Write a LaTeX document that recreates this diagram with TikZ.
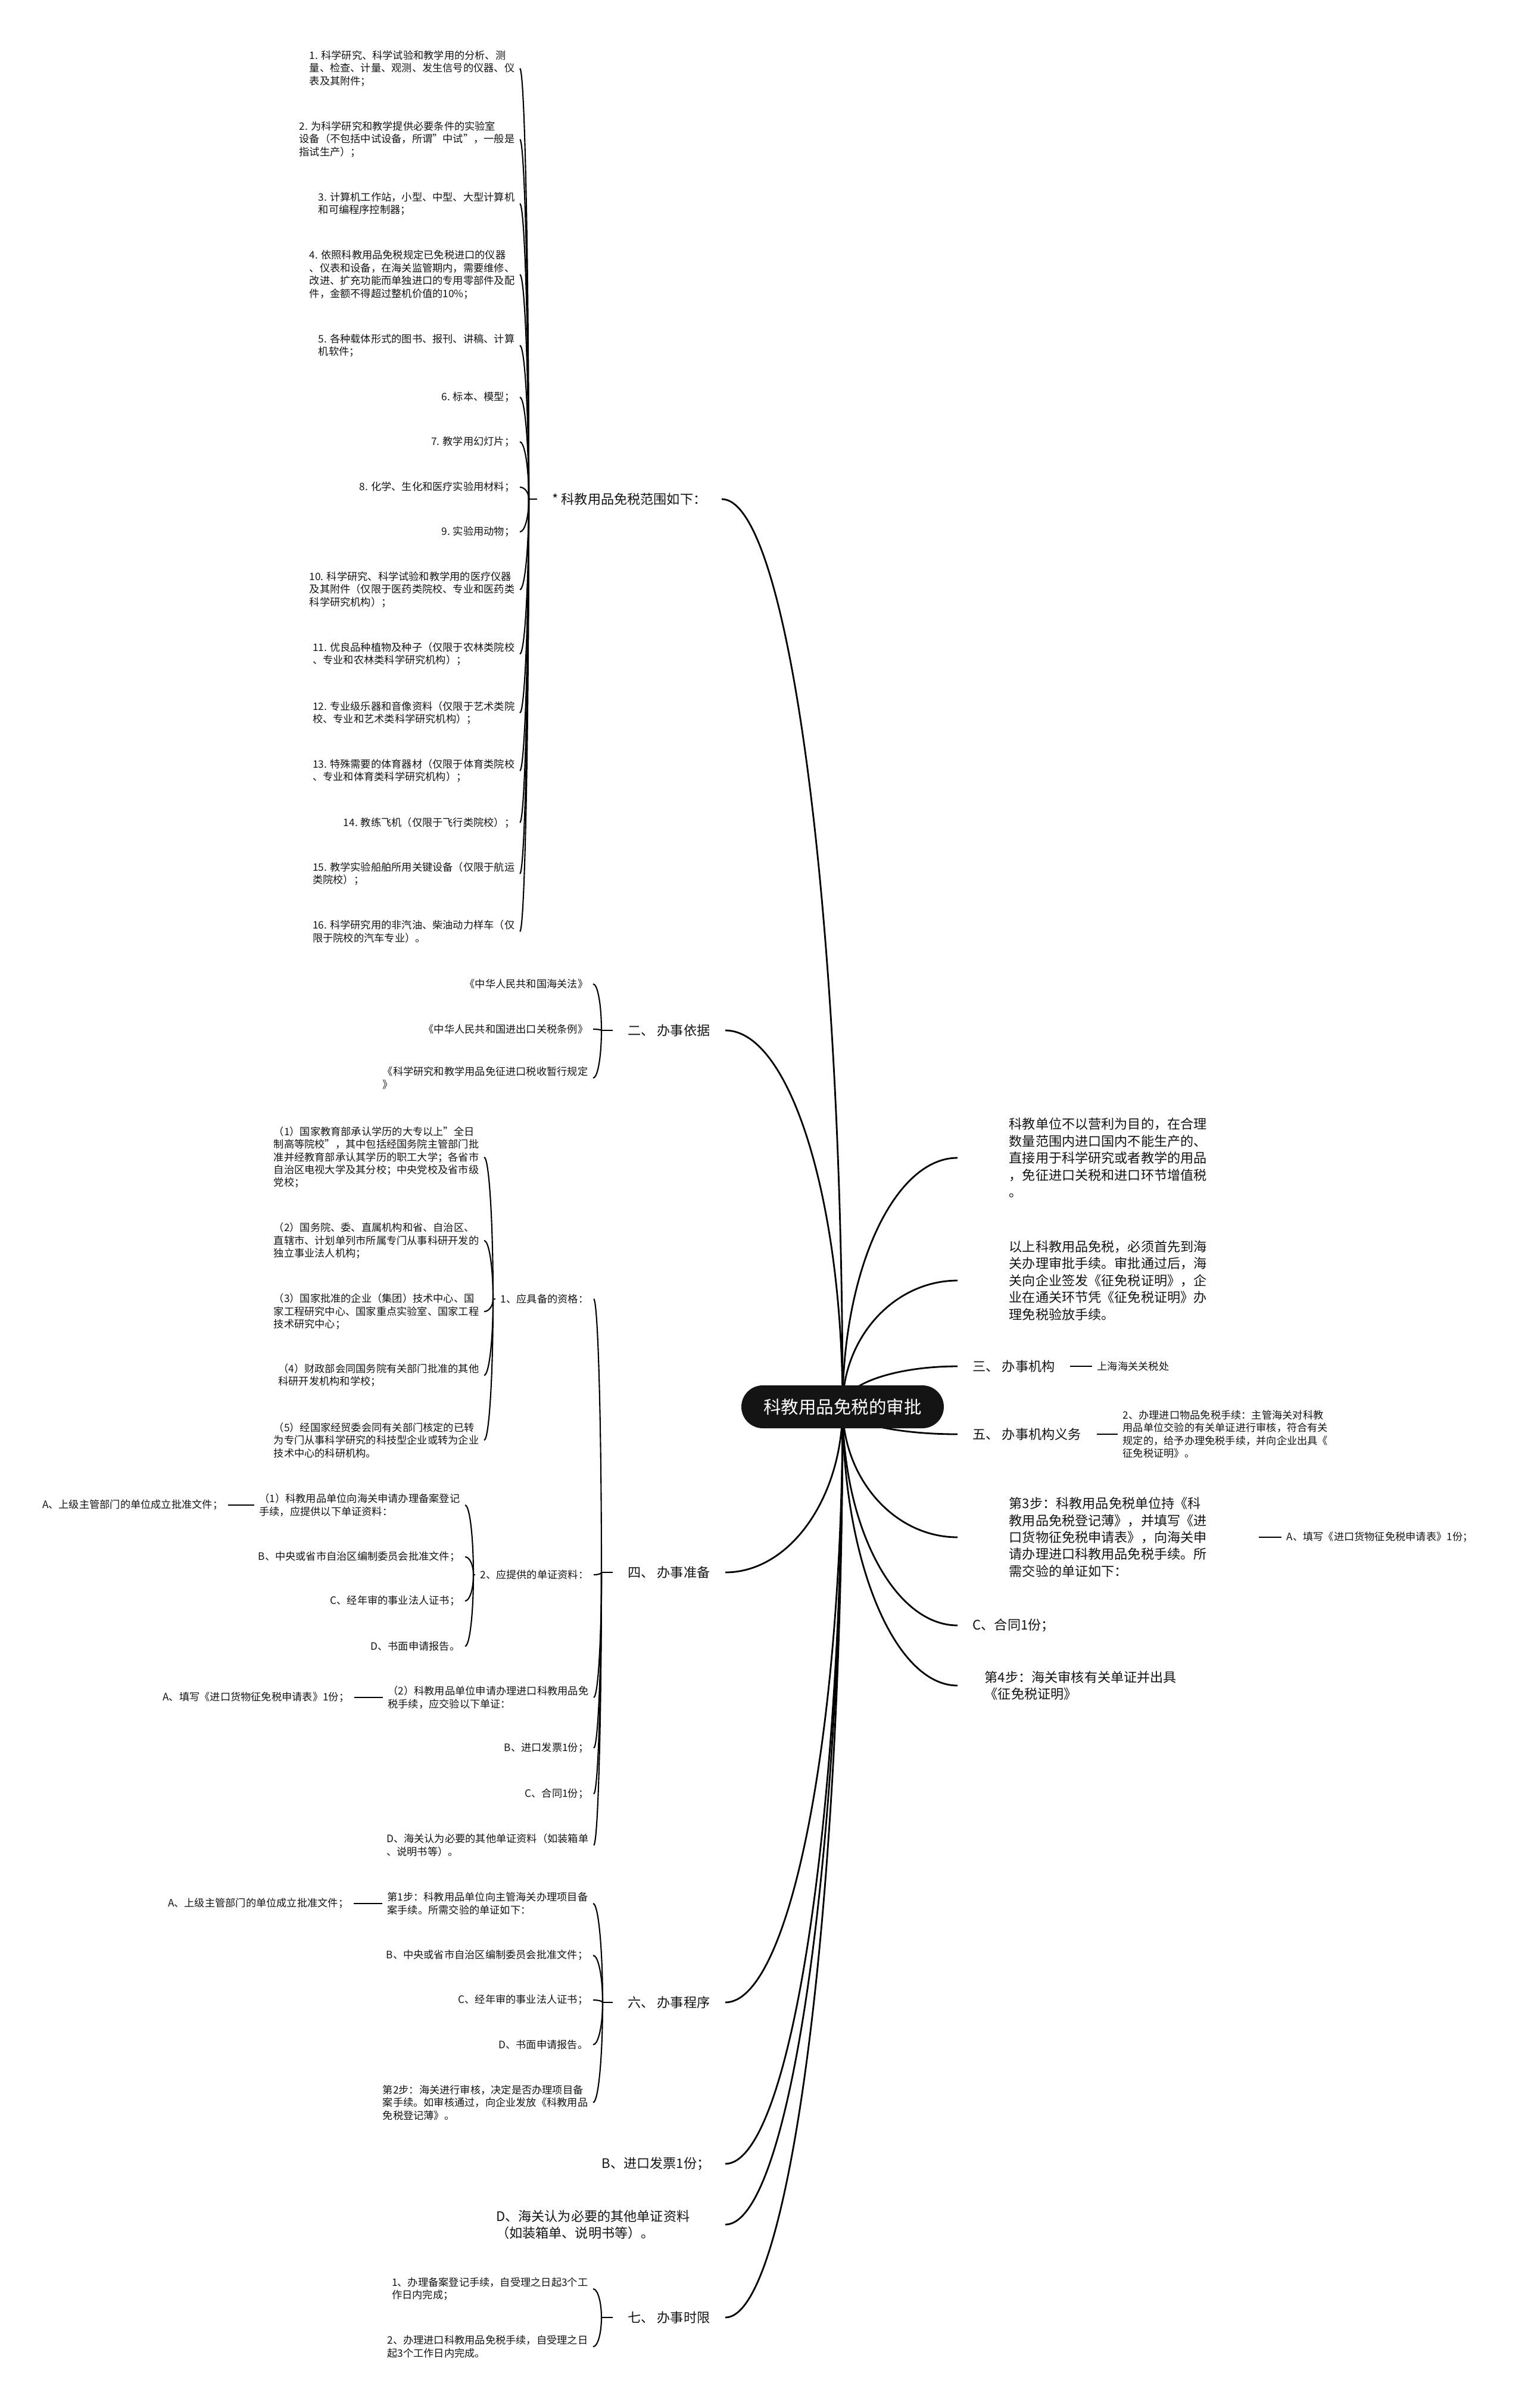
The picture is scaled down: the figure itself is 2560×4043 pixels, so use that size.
\documentclass[tikz,border=0pt]{standalone}
\usepackage{fontspec}
\setmainfont{Noto Sans CJK SC}
\usetikzlibrary{calc, backgrounds}
\definecolor{inkblack}{RGB}{20, 20, 20}
\definecolor{linkblack}{RGB}{0, 0, 0}

\tikzset{
  bend path/.style={to path={.. controls ($(\tikztostart)!0.55!(\tikztostart|-\tikztotarget)$) and ($(\tikztotarget)!0.55!(\tikztostart|-\tikztotarget)$) .. (\tikztotarget)}},
  centre/.style={fill=inkblack, text=white, rounded corners=3.6mm, minimum width=34mm,
                 minimum height=7.2mm, inner sep=0pt, font=\fontsize{8.4}{10}\selectfont},
  topic/.style={text=inkblack, inner xsep=2.5mm, inner ysep=0pt, align=left,
                font=\fontsize{6.3}{8.1}\selectfont},
  leaf/.style={text=inkblack, inner xsep=0.8mm, inner ysep=0pt, align=left,
               font=\fontsize{4.9}{6.1}\selectfont},
  branch/.style={draw=linkblack, line width=0.8pt, bend path},
  twig/.style={draw=linkblack, line width=0.6pt, bend path},
  stub/.style={draw=linkblack, line width=0.8pt}
}

\begin{document}
\begin{tikzpicture}[x=0.1mm, y=-0.1mm]
\begin{scope}[on background layer]
  \fill[white] (0,0) rectangle (2560,4043);
\end{scope}

\node[centre] (approve) at (1415,2362) {科教用品免税的审批};

% left: range of goods
\node[topic, anchor=east] (range) at (1212,838) {* 科教用品免税范围如下：};
\coordinate (j1) at (888,838);
\node[leaf, anchor=east] (item1) at (873,115) {1. 科学研究、科学试验和教学用的分析、测\\量、检查、计量、观测、发生信号的仪器、仪\\表及其附件；};
\node[leaf, anchor=east] (item2) at (873,234) {2. 为科学研究和教学提供必要条件的实验室\\设备（不包括中试设备，所谓"中试"，一般是\\指试生产）；};
\node[leaf, anchor=east] (item3) at (873,342) {3. 计算机工作站，小型、中型、大型计算机\\和可编程序控制器；};
\node[leaf, anchor=east] (item4) at (873,461) {4. 依照科教用品免税规定已免税进口的仪器\\、仪表和设备，在海关监管期内，需要维修、\\改进、扩充功能而单独进口的专用零部件及配\\件，金额不得超过整机价值的10\%；};
\node[leaf, anchor=east] (item5) at (873,580) {5. 各种载体形式的图书、报刊、讲稿、计算\\机软件；};
\node[leaf, anchor=east] (item6) at (873,667) {6. 标本、模型；};
\node[leaf, anchor=east] (item7) at (873,742) {7. 教学用幻灯片；};
\node[leaf, anchor=east] (item8) at (873,818) {8. 化学、生化和医疗实验用材料；};
\node[leaf, anchor=east] (item9) at (873,893) {9. 实验用动物；};
\node[leaf, anchor=east] (item10) at (873,990) {10. 科学研究、科学试验和教学用的医疗仪器\\及其附件（仅限于医药类院校、专业和医药类\\科学研究机构）；};
\node[leaf, anchor=east] (item11) at (873,1098) {11. 优良品种植物及种子（仅限于农林类院校\\、专业和农林类科学研究机构）；};
\node[leaf, anchor=east] (item12) at (873,1197) {12. 专业级乐器和音像资料（仅限于艺术类院\\校、专业和艺术类科学研究机构）；};
\node[leaf, anchor=east] (item13) at (873,1294) {13. 特殊需要的体育器材（仅限于体育类院校\\、专业和体育类科学研究机构）；};
\node[leaf, anchor=east] (item14) at (873,1381) {14. 教练飞机（仅限于飞行类院校）；};
\node[leaf, anchor=east] (item15) at (873,1467) {15. 教学实验船舶所用关键设备（仅限于航运\\类院校）；};
\node[leaf, anchor=east] (item16) at (873,1564) {16. 科学研究用的非汽油、柴油动力样车（仅\\限于院校的汽车专业）。};

% left: legal basis
\node[topic, anchor=east] (basis) at (1218,1730) {二、 办事依据};
\coordinate (j2) at (1010,1730);
\node[leaf, anchor=east] (law1) at (996,1652) {《中华人民共和国海关法》};
\node[leaf, anchor=east] (law2) at (996,1728) {《中华人民共和国进出口关税条例》};
\node[leaf, anchor=east] (law3) at (996,1810) {《科学研究和教学用品免征进口税收暂行规定\\》};

% left: preparation
\node[topic, anchor=east] (prep) at (1218,2640) {四、 办事准备};
\coordinate (j4) at (1010,2640);
\node[leaf, anchor=east] (qual) at (997,2181) {1、应具备的资格：};
\coordinate (jq) at (828,2181);
\node[leaf, anchor=east] (qual1) at (813,1943) {（1）国家教育部承认学历的大专以上"全日\\制高等院校"，其中包括经国务院主管部门批\\准并经教育部承认其学历的职工大学；各省市\\自治区电视大学及其分校；中央党校及省市级\\党校；};
\node[leaf, anchor=east] (qual2) at (813,2083) {（2）国务院、委、直属机构和省、自治区、\\直辖市、计划单列市所属专门从事科研开发的\\独立事业法人机构；};
\node[leaf, anchor=east] (qual3) at (813,2202) {（3）国家批准的企业（集团）技术中心、国\\家工程研究中心、国家重点实验室、国家工程\\技术研究中心；};
\node[leaf, anchor=east] (qual4) at (813,2309) {（4）财政部会同国务院有关部门批准的其他\\科研开发机构和学校；};
\node[leaf, anchor=east] (qual5) at (813,2418) {（5）经国家经贸委会同有关部门核定的已转\\为专门从事科学研究的科技型企业或转为企业\\技术中心的科研机构。};
\node[leaf, anchor=east] (docs) at (997,2644) {2、应提供的单证资料：};
\coordinate (jd) at (795,2644);
\node[leaf, anchor=east] (docs1) at (781,2527) {（1）科教用品单位向海关申请办理备案登记\\手续，应提供以下单证资料：};
\node[leaf, anchor=east] (docs1a) at (383,2527) {A、上级主管部门的单位成立批准文件；};
\node[leaf, anchor=east] (docs2) at (781,2614) {B、中央或省市自治区编制委员会批准文件；};
\node[leaf, anchor=east] (docs3) at (781,2688) {C、经年审的事业法人证书；};
\node[leaf, anchor=east] (docs4) at (781,2764) {D、书面申请报告。};
\node[leaf, anchor=east] (exempt) at (997,2850) {（2）科教用品单位申请办理进口科教用品免\\税手续，应交验以下单证：};
\node[leaf, anchor=east] (exempta) at (595,2850) {A、填写《进口货物征免税申请表》1份；};
\node[leaf, anchor=east] (prepb) at (997,2935) {B、进口发票1份；};
\node[leaf, anchor=east] (prepc) at (997,3012) {C、合同1份；};
\node[leaf, anchor=east] (prepd) at (997,3098) {D、海关认为必要的其他单证资料（如装箱单\\、说明书等）。};

% left: procedure
\node[topic, anchor=east] (proc) at (1218,3362) {六、 办事程序};
\coordinate (j6) at (1012,3362);
\node[leaf, anchor=east] (step1) at (996,3196) {第1步：科教用品单位向主管海关办理项目备\\案手续。所需交验的单证如下：};
\node[leaf, anchor=east] (step1a) at (594,3196) {A、上级主管部门的单位成立批准文件；};
\node[leaf, anchor=east] (procb) at (996,3283) {B、中央或省市自治区编制委员会批准文件；};
\node[leaf, anchor=east] (procc) at (996,3358) {C、经年审的事业法人证书；};
\node[leaf, anchor=east] (procd) at (996,3433) {D、书面申请报告。};
\node[leaf, anchor=east] (step2) at (996,3530) {第2步：海关进行审核，决定是否办理项目备\\案手续。如审核通过，向企业发放《科教用品\\免税登记薄》。};

\node[topic, anchor=east] (invoice) at (1218,3633) {B、进口发票1份；};
\node[topic, anchor=east, inner xsep=5.9mm] (other) at (1218,3735) {D、海关认为必要的其他单证资料\\（如装箱单、说明书等）。};

% left: time limit
\node[topic, anchor=east] (limit) at (1218,3891) {七、 办事时限};
\coordinate (j7) at (1010,3891);
\node[leaf, anchor=east] (limit1) at (996,3843) {1、办理备案登记手续，自受理之日起3个工\\作日内完成；};
\node[leaf, anchor=east] (limit2) at (996,3940) {2、办理进口科教用品免税手续，自受理之日\\起3个工作日内完成。};

% right side
\node[topic, anchor=west, inner xsep=8.6mm] (purpose) at (1608,1944) {科教单位不以营利为目的，在合理\\数量范围内进口国内不能生产的、\\直接用于科学研究或者教学的用品\\，免征进口关税和进口环节增值税\\。};
\node[topic, anchor=west, inner xsep=8.6mm] (firstly) at (1608,2150) {以上科教用品免税，必须首先到海\\关办理审批手续。审批通过后，海\\关向企业签发《征免税证明》，企\\业在通关环节凭《征免税证明》办\\理免税验放手续。};
\node[topic, anchor=west] (office) at (1608,2294) {三、 办事机构};
\node[leaf, anchor=west] (customs) at (1834,2294) {上海海关关税处};
\node[topic, anchor=west] (duty) at (1608,2408) {五、 办事机构义务};
\node[leaf, anchor=west] (dutytext) at (1877,2408) {2、办理进口物品免税手续：主管海关对科教\\用品单位交验的有关单证进行审核，符合有关\\规定的，给予办理免税手续，并向企业出具《\\征免税证明》。};
\node[topic, anchor=west, inner xsep=8.6mm] (step3) at (1608,2581) {第3步：科教用品免税单位持《科\\教用品免税登记薄》，并填写《进\\口货物征免税申请表》，向海关申\\请办理进口科教用品免税手续。所\\需交验的单证如下：};
\node[leaf, anchor=west] (step3a) at (2152,2581) {A、填写《进口货物征免税申请表》1份；};
\node[topic, anchor=west] (contract) at (1608,2729) {C、合同1份；};
\node[topic, anchor=west, inner xsep=4.5mm] (step4) at (1608,2830) {第4步：海关审核有关单证并出具\\《征免税证明》};

\begin{scope}[on background layer]
  \foreach \nd in {range,basis,prep,proc,invoice,other,limit}
    \draw[branch] (approve.center) to (\nd.east);
  \foreach \nd in {purpose,firstly,office,duty,step3,contract,step4}
    \draw[branch] (approve.center) to (\nd.west);

  \draw[stub] (range.west) -- (j1);
  \foreach \i in {1,...,16}
    \draw[twig] (j1) to (item\i.east);

  \draw[stub] (basis.west) -- (j2);
  \foreach \nd in {law1,law2,law3}
    \draw[twig] (j2) to (\nd.east);

  \draw[stub] (prep.west) -- (j4);
  \foreach \nd in {qual,docs,exempt,prepb,prepc,prepd}
    \draw[twig] (j4) to (\nd.east);
  \draw[stub] (qual.west) -- (jq);
  \foreach \nd in {qual1,qual2,qual3,qual4,qual5}
    \draw[twig] (jq) to (\nd.east);
  \draw[stub] (docs.west) -- (jd);
  \foreach \nd in {docs1,docs2,docs3,docs4}
    \draw[twig] (jd) to (\nd.east);
  \draw[stub] (docs1.west) -- (docs1a.east);
  \draw[stub] (exempt.west) -- (exempta.east);

  \draw[stub] (proc.west) -- (j6);
  \foreach \nd in {step1,procb,procc,procd,step2}
    \draw[twig] (j6) to (\nd.east);
  \draw[stub] (step1.west) -- (step1a.east);

  \draw[stub] (limit.west) -- (j7);
  \foreach \nd in {limit1,limit2}
    \draw[twig] (j7) to (\nd.east);

  \draw[stub] (office.east) -- (customs.west);
  \draw[stub] (duty.east) -- (dutytext.west);
  \draw[stub] (step3.east) -- (step3a.west);
\end{scope}
\end{tikzpicture}
\end{document}
